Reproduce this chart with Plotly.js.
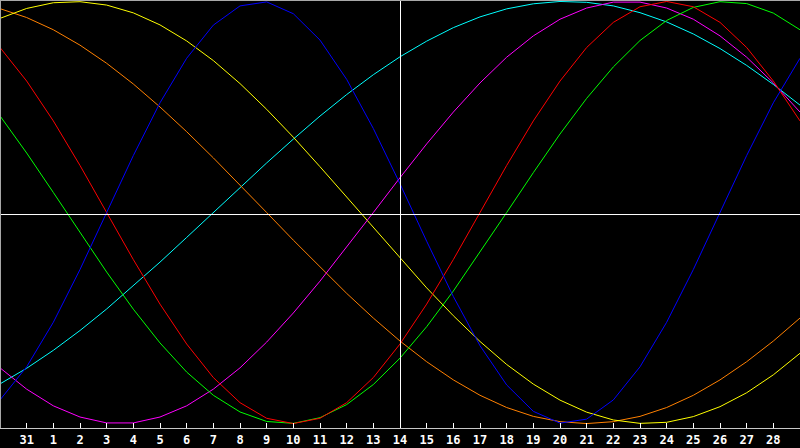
<!DOCTYPE html>
<html>
<head>
<meta charset="utf-8">
<script src="https://cdn.plot.ly/plotly-3.0.1.min.js"></script>
<style>
  html, body { margin: 0; padding: 0; background: #000; }
  #plot { width: 800px; height: 448px; }
</style>
</head>
<body>
<div id="plot"></div>
<script>
// one point per day, first point is the day before "31"
let dayIndex = [0, 1, 2, 3, 4, 5, 6, 7, 8, 9, 10, 11, 12, 13, 14, 15,
                16, 17, 18, 19, 20, 21, 22, 23, 24, 25, 26, 27, 28, 29, 30];

// tick positions and the day numbers printed under them
let tickPos = [1, 2, 3, 4, 5, 6, 7, 8, 9, 10, 11, 12, 13, 14, 15,
               16, 17, 18, 19, 20, 21, 22, 23, 24, 25, 26, 27, 28, 29];
let tickLabels = ['31', '1', '2', '3', '4', '5', '6', '7', '8', '9', '10', '11', '12', '13', '14',
                  '15', '16', '17', '18', '19', '20', '21', '22', '23', '24', '25', '26', '27', '28'];

// today marker
let todayPos = 15;

// cycle values, -1 .. 1
let physical = [-0.888, -0.731, -0.520, -0.270, 0.000, 0.270, 0.520, 0.731, 0.888, 0.979, 0.998,
                0.942, 0.817, 0.631, 0.398, 0.136, -0.136, -0.398, -0.631, -0.817, -0.942,
                -0.998, -0.979, -0.888, -0.731, -0.520, -0.270, 0.000, 0.270, 0.520, 0.731];
let emotional = [0.782, 0.623, 0.434, 0.223, 0.000, -0.223, -0.434, -0.623, -0.782, -0.901, -0.975,
                 -1.000, -0.975, -0.901, -0.782, -0.623, -0.434, -0.223, 0.000, 0.223, 0.434,
                 0.623, 0.782, 0.901, 0.975, 1.000, 0.975, 0.901, 0.782, 0.623, 0.434];
let intellectual = [0.458, 0.282, 0.095, -0.095, -0.282, -0.458, -0.618, -0.756, -0.866, -0.945, -0.990,
                    -0.999, -0.972, -0.910, -0.815, -0.690, -0.541, -0.372, -0.189, 0.000, 0.189,
                    0.372, 0.541, 0.690, 0.815, 0.910, 0.972, 0.999, 0.990, 0.945, 0.866];
let intuitive = [-0.736, -0.837, -0.916, -0.969, -0.997, -0.997, -0.969, -0.916, -0.837, -0.736, -0.614,
                 -0.476, -0.325, -0.165, 0.000, 0.165, 0.325, 0.476, 0.614, 0.736, 0.837,
                 0.916, 0.969, 0.997, 0.997, 0.969, 0.916, 0.837, 0.736, 0.614, 0.476];
let aesthetic = [0.920, 0.967, 0.994, 0.999, 0.983, 0.946, 0.889, 0.813, 0.720, 0.611, 0.489,
                 0.357, 0.217, 0.073, -0.073, -0.217, -0.357, -0.489, -0.611, -0.720, -0.813,
                 -0.889, -0.946, -0.983, -0.999, -0.994, -0.967, -0.920, -0.854, -0.769, -0.667];
let awareness = [0.966, 0.924, 0.866, 0.793, 0.707, 0.609, 0.500, 0.383, 0.259, 0.131, 0.000,
                 -0.131, -0.259, -0.383, -0.500, -0.609, -0.707, -0.793, -0.866, -0.924, -0.966,
                 -0.991, -1.000, -0.991, -0.966, -0.924, -0.866, -0.793, -0.707, -0.609, -0.500];
let spiritual = [-0.812, -0.738, -0.653, -0.559, -0.457, -0.348, -0.235, -0.118, 0.000, 0.118, 0.235,
                 0.348, 0.457, 0.559, 0.653, 0.738, 0.812, 0.876, 0.927, 0.965, 0.989,
                 1.000, 0.996, 0.979, 0.947, 0.903, 0.846, 0.777, 0.697, 0.607, 0.509];

let cycles = [
    {name: 'Spiritual', y: spiritual, color: '#00ffff'},
    {name: 'Awareness', y: awareness, color: '#ff8000'},
    {name: 'Aesthetic', y: aesthetic, color: '#ffff00'},
    {name: 'Intuitive', y: intuitive, color: '#ff00ff'},
    {name: 'Intellectual', y: intellectual, color: '#00ff00'},
    {name: 'Emotional', y: emotional, color: '#ff0000'},
    {name: 'Physical', y: physical, color: '#0000ff'}
];

let traces = [];
for (let c of cycles) {
    traces.push({
        x: dayIndex,
        y: c.y,
        name: c.name,
        type: 'scatter',
        mode: 'lines',
        line: {color: c.color, width: 1},
        hoverinfo: 'skip'
    });
}

// nudges so the 1px white guide lines land on whole pixel rows/columns
let midlineY = -0.0095;
let todayNudge = 0.019;

let layout = {
    width: 800,
    height: 448,
    margin: {l: 0, r: 0, t: 0, b: 20, pad: 0},
    paper_bgcolor: '#000000',
    plot_bgcolor: '#000000',
    showlegend: false,
    xaxis: {
        range: [0, 30],
        tickvals: tickPos,
        ticktext: tickLabels,
        ticks: 'inside',
        ticklen: 5,
        tickwidth: 1,
        tickcolor: '#ffffff',
        showgrid: false,
        zeroline: false,
        showline: true,
        linecolor: '#c8c8c8',
        linewidth: 1,
        ticklabelstandoff: 1,
        tickfont: {family: 'DejaVu Sans Mono', size: 12, color: '#ffffff', weight: 'bold'},
        fixedrange: true
    },
    yaxis: {
        range: [-1.021, 1.007],
        showticklabels: false,
        ticks: '',
        showgrid: false,
        zeroline: false,
        showline: false,
        fixedrange: true
    },
    shapes: [
        // midline and today line
        {type: 'line', xref: 'paper', yref: 'y', x0: 0, x1: 1, y0: midlineY, y1: midlineY,
         line: {color: '#ffffff', width: 1}},
        {type: 'line', xref: 'x', yref: 'paper', x0: todayPos + todayNudge, x1: todayPos + todayNudge,
         y0: 0, y1: 1, line: {color: '#ffffff', width: 1}},
        // grey frame top and left
        {type: 'line', xref: 'paper', yref: 'paper', x0: 0, x1: 1, y0: 1, y1: 1,
         line: {color: '#a8a8a8', width: 2}},
        {type: 'line', xref: 'paper', yref: 'paper', x0: 0, x1: 0, y0: 0, y1: 1,
         line: {color: '#a8a8a8', width: 2}}
    ]
};

Plotly.newPlot('plot', traces, layout, {displayModeBar: false, staticPlot: true});
</script>
</body>
</html>
